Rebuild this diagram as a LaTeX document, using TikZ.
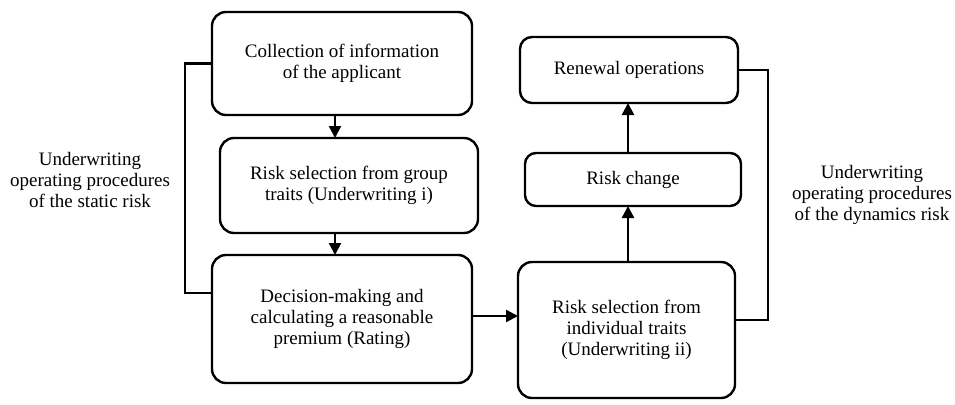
\documentclass[tikz,border=0pt]{standalone}
\usepackage{fontspec}
\setmainfont{Liberation Serif}
\usetikzlibrary{arrows.meta}
\begin{document}
\begin{tikzpicture}[x=1pt,y=-1pt,
 box/.style={draw, line width=2.4pt, rounded corners=14pt, inner sep=0pt, outer sep=0pt, align=center, font=\fontsize{19}{21}\selectfont},
 lbl/.style={align=center, font=\fontsize{19}{21}\selectfont, inner sep=0pt},
 arr/.style={line width=2.4pt, -{Triangle[length=12pt,width=12pt]}},
 conn/.style={line width=2.4pt}]
\useasboundingbox (0,0) rectangle (955,404);
\node[box, minimum width=260pt, minimum height=103pt] (A) at (342,63.5) {Collection of information\\of the applicant};
\node[box, minimum width=258pt, minimum height=95pt] (B) at (349,185.5) {Risk selection from group\\traits (Underwriting i)};
\node[box, minimum width=260pt, minimum height=128pt] (C) at (342,319) {Decision-making and\\calculating a reasonable\\premium (Rating)};
\node[box, minimum width=217pt, minimum height=136pt] (D) at (626.5,330) {Risk selection from\\individual traits\\(Underwriting ii)};
\node[box, minimum width=216pt, minimum height=53pt, rounded corners=11pt] (E) at (633,179.5) {Risk change};
\node[box, minimum width=218pt, minimum height=66pt, rounded corners=12pt] (F) at (629,70) {Renewal operations};
\node[lbl] (L) at (90,180) {Underwriting\\operating procedures\\of the static risk};
\node[lbl] (R) at (872,195) {Underwriting\\operating procedures\\of the dynamics risk};
\coordinate (xa) at (335,0);
\coordinate (yc) at (0,316);
\coordinate (xd) at (628,0);
\coordinate (lx) at (185,0);
\coordinate (ly) at (0,293);
\coordinate (rx) at (768,0);
\coordinate (ry) at (0,320);
\draw[arr] (A.south -| xa) -- (B.north -| xa);
\draw[arr] (B.south -| xa) -- (C.north -| xa);
\draw[arr] (C.east |- yc) -- (D.west |- yc);
\draw[arr] (D.north -| xd) -- (E.south -| xd);
\draw[arr] (E.north -| xd) -- (F.south -| xd);
\draw[conn] (A.west) -- (A.west -| lx) -- (lx |- ly) -- (C.west |- ly);
\draw[conn] (F.east) -- (F.east -| rx) -- (rx |- ry) -- (D.east |- ry);
\end{tikzpicture}
\end{document}
